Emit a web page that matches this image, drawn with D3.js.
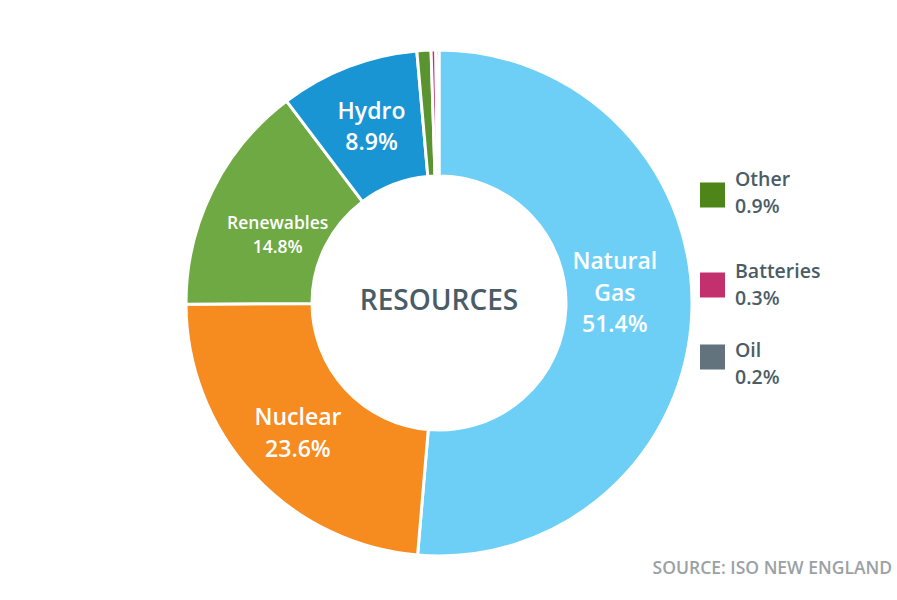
<!DOCTYPE html>
<html lang="en">
<head>
    <meta charset="UTF-8">
    <title>Resources</title>
    <script src="https://cdnjs.cloudflare.com/ajax/libs/d3/7.9.0/d3.min.js"></script>
    <style>
        body {
            margin: 0;
            font-family: "Open Sans", Arial, sans-serif;
            background: #fff;
        }
        .slice-label {
            fill: #fff;
            font-weight: 600;
            text-anchor: middle;
        }
        .legend-text {
            fill: #4a5c66;
            font-size: 19.5px;
            font-weight: 600;
        }
    </style>
</head>
<body>
    <div id="chart"></div>
    <script>
        const categories = ["Natural Gas", "Nuclear", "Renewables", "Hydro", "Other", "Batteries", "Oil"];
        const values = [51.4, 23.6, 14.8, 8.9, 0.9, 0.3, 0.2];
        const colors = ["#6dcff6", "#f68b1f", "#6fa944", "#1a95d3", "#5a9430", "#c4306e", "#62737e"];
        const legendColors = { "Other": "#4e8519", "Batteries": "#c4306e", "Oil": "#62737e" };
        const legendItems = ["Other", "Batteries", "Oil"];

        const width = 897, height = 600;
        const cx = 439, cy = 303;
        const outerR = 253, innerR = 127;

        const svg = d3.select("#chart").append("svg")
            .attr("width", width)
            .attr("height", height);

        const data = categories.map((c, i) => ({ name: c, value: values[i] }));

        const pie = d3.pie().value(d => d.value).sort(null);
        const arc = d3.arc().innerRadius(innerR).outerRadius(outerR);

        const g = svg.append("g").attr("transform", `translate(${cx},${cy})`);

        const arcs = pie(data);

        g.selectAll("path")
            .data(arcs)
            .enter()
            .append("path")
            .attr("d", arc)
            .attr("fill", (d, i) => colors[i])
            .attr("stroke", "#fff")
            .attr("stroke-width", 3);

        // labels inside the big slices (font size, lines, radius, vertical nudge)
        const labelCfg = {
            "Natural Gas": { size: 23, lines: ["Natural", "Gas"], r: 176, nudge: -18 },
            "Nuclear": { size: 23, lines: ["Nuclear"], r: 192, nudge: 0 },
            "Renewables": { size: 17.5, lines: ["Renewables"], r: 180, nudge: 12 },
            "Hydro": { size: 23, lines: ["Hydro"], r: 188, nudge: -1 }
        };

        arcs.filter(d => labelCfg[d.data.name]).forEach(d => {
            const cfg = labelCfg[d.data.name];
            const a = (d.startAngle + d.endAngle) / 2;
            const x = Math.sin(a) * cfg.r, y = -Math.cos(a) * cfg.r + cfg.nudge;
            const lines = cfg.lines.concat([d.data.value.toFixed(1) + "%"]);
            const lh = cfg.size * 1.38;
            const t = g.append("text")
                .attr("class", "slice-label")
                .style("font-size", cfg.size + "px")
                .attr("x", x)
                .attr("y", y - (lines.length - 1) * lh / 2)
                .attr("dy", "0.35em");
            lines.forEach((l, k) => {
                t.append("tspan")
                    .attr("x", x)
                    .attr("dy", k === 0 ? "0.35em" : lh)
                    .text(l);
            });
        });

        // center title
        g.append("text")
            .attr("text-anchor", "middle")
            .attr("dy", "0.35em")
            .attr("y", -3)
            .style("font-size", "28px")
            .style("font-weight", 600)
            .style("fill", "#4a5c66")
            .text("RESOURCES");

        // legend: swatch centres and text tops are placed separately
        const swatchY = d3.scaleOrdinal().domain(legendItems).range([195, 285, 357]);
        const textY = d3.scaleOrdinal().domain(legendItems).range([186, 278, 357]);
        const legend = svg.append("g");
        legendItems.forEach(name => {
            const y = swatchY(name);
            const ty = textY(name);
            legend.append("rect")
                .attr("x", 700)
                .attr("y", y - 12.5)
                .attr("width", 25)
                .attr("height", 25)
                .attr("fill", legendColors[name]);
            legend.append("text")
                .attr("class", "legend-text")
                .attr("x", 735)
                .attr("y", ty)
                .text(name);
            legend.append("text")
                .attr("class", "legend-text")
                .attr("x", 735)
                .attr("y", ty + 27)
                .text(values[categories.indexOf(name)].toFixed(1) + "%");
        });

        // source note
        svg.append("text")
            .attr("x", 892)
            .attr("y", 574)
            .attr("text-anchor", "end")
            .style("font-size", "17.5px")
            .style("font-weight", 600)
            .style("fill", "#9aa1a4")
            .text("SOURCE: ISO NEW ENGLAND");
    </script>
</body>
</html>
